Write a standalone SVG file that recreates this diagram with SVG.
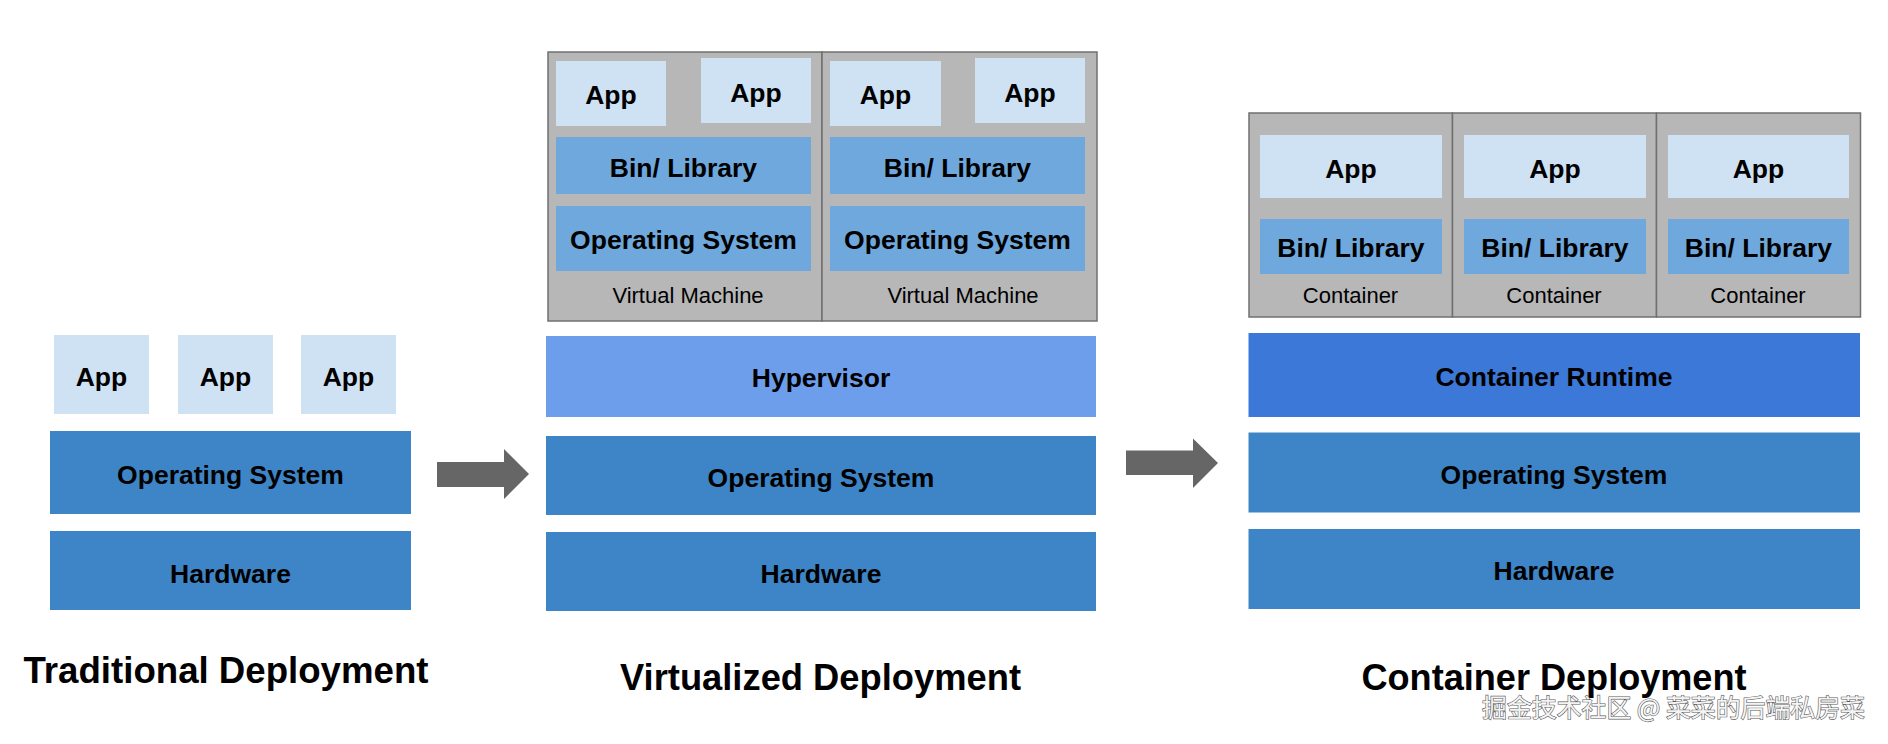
<svg xmlns="http://www.w3.org/2000/svg" width="1888" height="744" viewBox="0 0 1888 744">
<style>
.app{fill:#cfe2f3}
.dark{fill:#3d85c6}
.mid{fill:#6fa8dc}
.hyp{fill:#6d9eeb}
.rt{fill:#3c78d8}
.box{fill:#b7b7b7;stroke:#707070;stroke-width:1.5}
.arrow{fill:#666666}
text{font-family:"Liberation Sans",Arial,sans-serif;fill:#000;text-anchor:middle}
.b{font-weight:bold;font-size:26.5px}
.r{font-size:22px}
.t{font-weight:bold;font-size:36px}
.wm{font-family:"Noto Sans CJK SC","Liberation Sans",sans-serif;font-size:25px;fill:#f4f4f4;stroke:#5a5a5a;stroke-width:1.2;paint-order:stroke;text-anchor:start}
</style>
<rect width="1888" height="744" fill="#ffffff"/>

<!-- Traditional Deployment -->
<g id="trad-app1"><rect class="app" x="54" y="335" width="95" height="79"/><text class="b" x="101.5" y="386">App</text></g>
<g id="trad-app2"><rect class="app" x="178" y="335" width="95" height="79"/><text class="b" x="225.5" y="386">App</text></g>
<g id="trad-app3"><rect class="app" x="301" y="335" width="95" height="79"/><text class="b" x="348.5" y="386">App</text></g>
<g id="trad-os"><rect class="dark" x="50" y="431" width="361" height="83"/><text class="b" x="230.5" y="483.5">Operating System</text></g>
<g id="trad-hw"><rect class="dark" x="50" y="531" width="361" height="79"/><text class="b" x="230.5" y="583">Hardware</text></g>
<g id="trad-title"><text class="t" x="226" y="683" textLength="405" lengthAdjust="spacingAndGlyphs">Traditional Deployment</text></g>

<!-- Virtualized Deployment -->
<g id="vm1">
<rect class="box" x="548" y="52" width="274" height="269"/>
<rect class="app" x="556" y="61" width="110" height="65"/><text class="b" x="611" y="104">App</text>
<rect class="app" x="701" y="58" width="110" height="65"/><text class="b" x="756" y="101.5">App</text>
<rect class="mid" x="556" y="137" width="255" height="57"/><text class="b" x="683.5" y="176.5">Bin/ Library</text>
<rect class="mid" x="556" y="206" width="255" height="65"/><text class="b" x="683.5" y="249">Operating System</text>
<text class="r" x="688" y="302.5">Virtual Machine</text>
</g>
<g id="vm2">
<rect class="box" x="822" y="52" width="275" height="269"/>
<rect class="app" x="830" y="61" width="111" height="65"/><text class="b" x="885.5" y="104">App</text>
<rect class="app" x="975" y="58" width="110" height="65"/><text class="b" x="1030" y="101.5">App</text>
<rect class="mid" x="830" y="137" width="255" height="57"/><text class="b" x="957.5" y="176.5">Bin/ Library</text>
<rect class="mid" x="830" y="206" width="255" height="65"/><text class="b" x="957.5" y="249">Operating System</text>
<text class="r" x="963" y="302.5">Virtual Machine</text>
</g>
<g id="virt-hypervisor"><rect class="hyp" x="546" y="336" width="550" height="81"/><text class="b" x="821" y="386.5">Hypervisor</text></g>
<g id="virt-os"><rect class="dark" x="546" y="436" width="550" height="79"/><text class="b" x="821" y="486.5">Operating System</text></g>
<g id="virt-hw"><rect class="dark" x="546" y="532" width="550" height="79"/><text class="b" x="821" y="582.5">Hardware</text></g>
<g id="virt-title"><text class="t" x="820.5" y="690" textLength="401" lengthAdjust="spacingAndGlyphs">Virtualized Deployment</text></g>

<!-- Container Deployment -->
<g id="container1">
<rect class="box" x="1249" y="113" width="203.5" height="204"/>
<rect class="app" x="1260" y="135" width="182" height="63"/><text class="b" x="1351" y="177.5">App</text>
<rect class="mid" x="1260" y="219" width="182" height="55"/><text class="b" x="1351" y="256.5">Bin/ Library</text>
<text class="r" x="1350.5" y="302.5">Container</text>
</g>
<g id="container2">
<rect class="box" x="1452.5" y="113" width="204" height="204"/>
<rect class="app" x="1464" y="135" width="182" height="63"/><text class="b" x="1555" y="177.5">App</text>
<rect class="mid" x="1464" y="219" width="182" height="55"/><text class="b" x="1555" y="256.5">Bin/ Library</text>
<text class="r" x="1554" y="302.5">Container</text>
</g>
<g id="container3">
<rect class="box" x="1656.5" y="113" width="204" height="204"/>
<rect class="app" x="1668" y="135" width="181" height="63"/><text class="b" x="1758.5" y="177.5">App</text>
<rect class="mid" x="1668" y="219" width="181" height="55"/><text class="b" x="1758.5" y="256.5">Bin/ Library</text>
<text class="r" x="1758" y="302.5">Container</text>
</g>
<g id="cont-runtime"><rect class="rt" x="1248.5" y="333" width="611.5" height="84"/><text class="b" x="1554" y="385.5">Container Runtime</text></g>
<g id="cont-os"><rect class="dark" x="1248.5" y="432.5" width="611.5" height="80"/><text class="b" x="1554" y="483.5">Operating System</text></g>
<g id="cont-hw"><rect class="dark" x="1248.5" y="529" width="611.5" height="80"/><text class="b" x="1554" y="579.5">Hardware</text></g>
<g id="cont-title"><text class="t" x="1554" y="690" textLength="385" lengthAdjust="spacingAndGlyphs">Container Deployment</text></g>

<!-- Connectors -->
<g id="connectors">
<polygon class="arrow" points="437,462 504,462 504,449 529,474 504,499 504,487 437,487"/>
<polygon class="arrow" points="1126,450.5 1193,450.5 1193,438.5 1218,463 1193,488 1193,475 1126,475"/>
</g>

<g id="watermark"><text class="wm" x="1482" y="717" textLength="383" lengthAdjust="spacingAndGlyphs">掘金技术社区 @ 菜菜的后端私房菜</text></g>
</svg>
